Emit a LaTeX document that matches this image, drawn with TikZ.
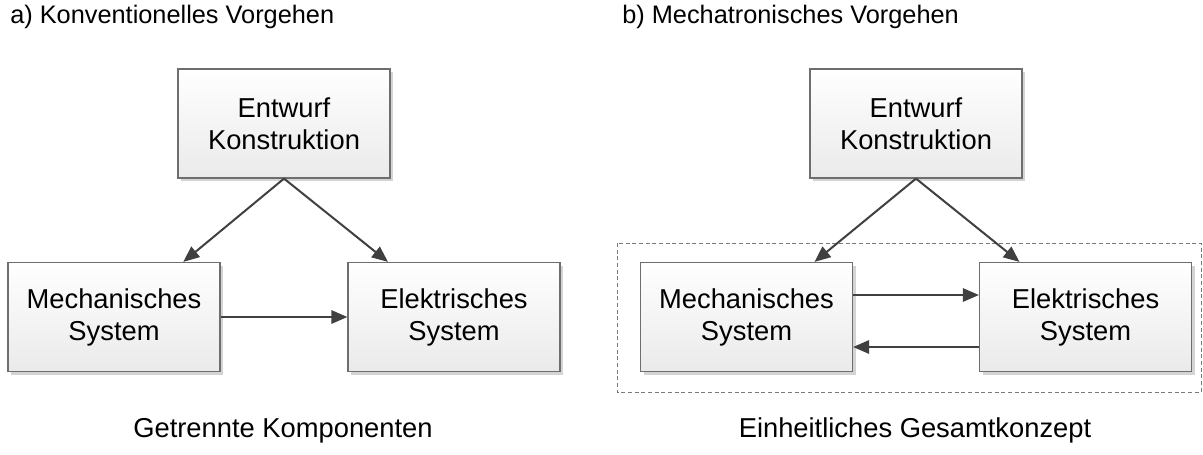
\documentclass[tikz,border=0pt]{standalone}
\usepackage{fontspec}
\setmainfont{Liberation Sans}
\usetikzlibrary{arrows.meta,calc}

\definecolor{boxline}{HTML}{6E6E6E}
\definecolor{arrowcol}{HTML}{404040}
\definecolor{shadowcol}{HTML}{D4D4D4}
\definecolor{boxbottom}{HTML}{EAEAEA}
\definecolor{groupline}{HTML}{7A7A7A}

\tikzset{
  txt/.style={font=\fontsize{20.5}{24}\selectfont, text=black},
  blockbox/.style={txt, draw=boxline, line width=0.9pt,
    minimum width=159pt, minimum height=81.75pt, align=center,
    inner sep=0pt,
    preaction={fill=shadowcol, transform canvas={xshift=2.4pt, yshift=-2.4pt}},
    top color=white, bottom color=boxbottom},
  flow/.style={draw=arrowcol, line width=1.5pt,
    -{Triangle[length=12pt, width=10pt]}},
  groupframe/.style={draw=groupline, line width=0.7pt, dash pattern=on 3pt off 2pt},
  heading/.style={font=\fontsize{19}{23}\selectfont, text=black, anchor=base west, inner sep=0pt},
  caption/.style={txt, anchor=base, inner sep=0pt},
}

\begin{document}
\begin{tikzpicture}[x=0.75pt, y=-0.75pt]
  \useasboundingbox (0,0) rectangle (1203,454);

  % --- a) conventional approach ---
  \node[heading] (titleA) at (10,23) {a) Konventionelles Vorgehen};
  \node[blockbox] (designA) at (284,123.5) {Entwurf\\Konstruktion};
  \node[blockbox] (mechA) at (114,317) {Mechanisches\\System};
  \node[blockbox] (elecA) at (454,317) {Elektrisches\\System};
  \node[caption] (capA) at (283,437) {Getrennte Komponenten};

  \draw[flow] (designA.south) -- ([xshift=52pt]mechA.north);
  \draw[flow] (designA.south) -- ([xshift=-49.5pt]elecA.north);
  \draw[flow] (mechA.east) -- (elecA.west);

  % --- b) mechatronic approach ---
  \node[heading] (titleB) at (622,23) {b) Mechatronisches Vorgehen};
  \coordinate (groupNW) at (617,243);
  \coordinate (groupSE) at (1201,392);
  \draw[groupframe] (groupNW) rectangle (groupSE);
  \node[blockbox] (designB) at (916,123.5) {Entwurf\\Konstruktion};
  \node[blockbox] (mechB) at (746.5,317) {Mechanisches\\System};
  \node[blockbox] (elecB) at (1085.5,317) {Elektrisches\\System};
  \node[caption] (capB) at (915,437) {Einheitliches Gesamtkonzept};

  \draw[flow] (designB.south) -- ([xshift=51pt]mechB.north);
  \draw[flow] (designB.south) -- ([xshift=-49.5pt]elecB.north);
  \draw[flow] ([yshift=16.5pt]mechB.east) -- ([yshift=16.5pt]elecB.west);
  \draw[flow] ([yshift=-22.5pt]elecB.west) -- ([yshift=-22.5pt]mechB.east);
\end{tikzpicture}
\end{document}
